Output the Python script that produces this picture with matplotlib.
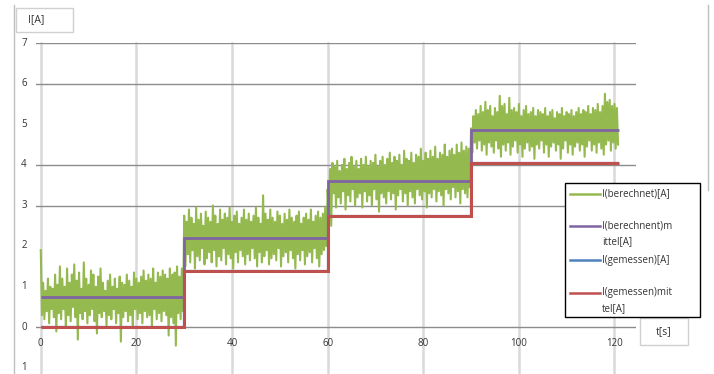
import matplotlib
matplotlib.use("Agg")
import matplotlib.pyplot as plt
from matplotlib.patches import Rectangle
from matplotlib.lines import Line2D
import numpy as np

# step edges and mean levels
step_t = [0, 30, 60, 90, 121]
mittel_berechnet = [0.75, 2.2, 3.6, 4.85]
mittel_gemessen = [0.0, 1.4, 2.75, 4.05]
gemessen = [0.0, 1.4, 2.75, 4.05]

oben1 = [1.9, 1.1, 0.9, 1.2, 1.0, 0.95, 1.3, 1.05, 1.5, 1.2, 1.0, 1.45, 1.1, 1.3, 1.55,
         1.15, 1.35, 0.95, 1.6, 1.2, 1.05, 1.4, 1.3, 1.0, 1.25, 1.45, 1.1, 0.9, 1.15, 1.3,
         1.0, 1.2, 0.95, 1.25, 1.1, 1.05, 1.3, 1.15, 1.0, 1.35, 1.2, 1.1, 1.25, 1.4, 1.15,
         1.3, 1.2, 1.45, 1.1, 1.35, 1.25, 1.4, 1.3, 1.2, 1.45, 1.3, 1.35, 1.5, 1.25, 1.45]
unten1 = [0.3, 0.2, 0.4, 0.1, 0.45, 0.25, -0.1, 0.35, 0.2, 0.45, 0.0, 0.3, 0.15, 0.5, 0.25,
          -0.3, 0.35, 0.2, 0.4, 0.1, 0.3, 0.45, 0.15, -0.15, 0.35, 0.25, 0.4, 0.05, 0.3, 0.2,
          0.45, 0.1, 0.35, -0.35, 0.25, 0.4, 0.15, 0.3, 0.05, 0.45, 0.2, 0.35, 0.1, 0.4, 0.25,
          0.3, 0.0, 0.45, 0.2, 0.35, 0.15, 0.4, 0.3, -0.2, 0.25, 0.1, -0.45, 0.35, 0.2, 0.4]
oben2 = [2.75, 2.6, 2.9, 2.7, 2.55, 2.95, 2.65, 2.8, 2.5, 2.85, 2.7, 2.6, 3.0, 2.75, 2.55,
         2.9, 2.65, 2.8, 2.7, 2.95, 2.6, 2.75, 2.85, 2.55, 2.7, 2.9, 2.65, 2.8, 2.6, 2.75,
         2.95, 2.7, 2.55, 3.25, 2.8, 2.65, 2.9, 2.7, 2.6, 2.85, 2.75, 2.55, 2.8, 2.65, 2.9,
         2.7, 2.6, 2.75, 2.85, 2.55, 2.7, 2.8, 2.65, 2.9, 2.6, 2.75, 2.85, 2.7, 2.8, 2.95]
unten2 = [1.5, 1.8, 1.6, 1.9, 1.45, 1.75, 1.65, 1.95, 1.55, 1.7, 1.85, 1.6, 1.9, 1.5, 1.75,
          1.65, 1.95, 1.55, 1.8, 1.7, 1.45, 1.85, 1.6, 1.9, 1.75, 1.55, 1.8, 1.65, 1.95, 1.7,
          1.5, 1.85, 1.6, 1.75, 1.9, 1.55, 1.7, 1.8, 1.65, 1.95, 1.5, 1.75, 1.85, 1.6, 1.9,
          1.7, 1.45, 1.8, 1.65, 1.9, 1.55, 1.75, 1.85, 1.6, 1.95, 1.7, 1.5, 1.8, 1.9, 2.0]
oben3 = [3.4, 3.9, 4.05, 3.95, 4.1, 3.85, 4.0, 4.15, 3.9, 4.05, 4.2, 3.95, 4.1, 3.9, 4.15,
         4.0, 4.2, 3.95, 4.1, 4.05, 4.25, 3.95, 4.1, 4.2, 4.0, 4.15, 4.3, 4.05, 4.2, 4.1,
         4.25, 4.0, 4.35, 4.15, 4.1, 4.3, 4.05, 4.25, 4.2, 4.4, 4.1, 4.3, 4.15, 4.35, 4.2,
         4.45, 4.15, 4.3, 4.25, 4.5, 4.2, 4.35, 4.4, 4.25, 4.5, 4.3, 4.55, 4.35, 4.45, 4.4]
unten3 = [2.8, 2.5, 3.3, 2.95, 3.2, 3.05, 3.35, 2.9, 3.25, 3.1, 3.4, 3.0, 3.2, 3.3, 2.95,
          3.35, 3.1, 3.25, 3.0, 3.4, 3.15, 2.85, 3.3, 3.2, 3.05, 3.35, 3.15, 3.3, 2.9, 3.25,
          3.4, 3.1, 3.3, 3.0, 3.35, 3.2, 3.05, 3.4, 3.25, 3.15, 3.35, 2.95, 3.3, 3.2, 3.4,
          3.1, 3.35, 3.25, 3.0, 3.4, 3.3, 3.15, 3.45, 3.2, 3.35, 3.05, 3.4, 3.3, 3.2, 3.45]
oben4 = [4.9, 5.2, 5.35, 5.25, 5.45, 5.3, 5.55, 5.35, 5.45, 5.2, 5.4, 5.3, 5.7, 5.45, 5.5,
         5.25, 5.65, 5.35, 5.4, 5.3, 5.5, 5.2, 5.35, 5.45, 5.25, 5.3, 5.4, 5.2, 5.35, 5.3,
         5.25, 5.4, 5.2, 5.3, 5.35, 5.15, 5.3, 5.25, 5.4, 5.2, 5.3, 5.25, 5.35, 5.2, 5.3,
         5.4, 5.25, 5.35, 5.3, 5.45, 5.25, 5.4, 5.35, 5.5, 5.3, 5.45, 5.75, 5.55, 5.6, 5.45,
         5.5, 5.4]
unten4 = [4.3, 4.55, 4.4, 4.6, 4.35, 4.5, 4.25, 4.55, 4.45, 4.3, 4.6, 4.4, 4.2, 4.5, 4.35,
          4.55, 4.25, 4.45, 4.6, 4.3, 4.5, 4.2, 4.4, 4.55, 4.35, 4.45, 4.15, 4.5, 4.4, 4.6,
          4.3, 4.5, 4.2, 4.45, 4.55, 4.35, 4.5, 4.15, 4.4, 4.6, 4.3, 4.5, 4.25, 4.45, 4.55,
          4.35, 4.5, 4.2, 4.45, 4.6, 4.35, 4.5, 4.3, 4.55, 4.4, 4.25, 4.5, 4.6, 4.35, 4.55,
          4.4, 4.5]
oben = oben1 + oben2 + oben3 + oben4
unten = unten1 + unten2 + unten3 + unten4
berechnet = np.column_stack([oben, unten]).ravel()
t = np.arange(len(berechnet)) * 0.25

x_ticks = [0, 20, 40, 60, 80, 100, 120]
y_ticks = [7, 6, 5, 4, 3, 2, 1, 0, -1]
y_tick_labels = ["7", "6", "5", "4", "3", "2", "1", "0", "1"]
h_grid = [0, 3, 4, 6, 7]

GREEN = "#94b94e"
PURPLE = "#8064a2"
BLUE = "#4f81bd"
RED = "#c0504d"
TXT = "#333333"

W, H = 714, 374
fig = plt.figure(figsize=(W / 100, H / 100), dpi=100)
plt.rcParams['font.family'] = ['Open Sans', 'DejaVu Sans']


def fx(px):
    return px / W


def fy(py):
    return 1 - py / H


ax = fig.add_axes([fx(36), fy(368), fx(636) - fx(36), fy(43) - fy(368)])
ax.set_xlim(-1, 124.5)
ax.set_ylim(-1, 7)
for s in ax.spines.values():
    s.set_visible(False)
ax.set_xticks([])
ax.set_yticks([])

# gridlines
for xv in x_ticks:
    ax.plot([xv, xv], [-1.2, 7], color="#d9d9d9", lw=1.8, zorder=0, clip_on=False)
for yv in h_grid:
    ax.axhline(yv, color="#8c8c8c", lw=1.0, zorder=0.5)

# series
ax.plot(t, berechnet, color=GREEN, lw=1.5, zorder=2)
ax.stairs(mittel_berechnet, step_t, baseline=None, color=PURPLE, lw=2.0, zorder=3)
ax.stairs(gemessen, step_t, baseline=None, color=BLUE, lw=1.6, zorder=3)
ax.stairs(mittel_gemessen, step_t, baseline=None, color=RED, lw=2.2, zorder=4)

# tick labels
for xv in x_ticks:
    ax.text(xv, -0.4, str(xv), ha="center", va="center", fontsize=7, color=TXT)
for yv, lab in zip(y_ticks, y_tick_labels):
    fig.text(fx(24), fy(43 + (7 - yv) * 40.6), lab, ha="center", va="center",
             fontsize=7, color=TXT)

# frame lines
fig.add_artist(Line2D([fx(14), fx(14)], [fy(5), fy(374)], color="#bfbfbf", lw=1.0))
fig.add_artist(Line2D([fx(708), fx(708)], [fy(5), fy(190)], color="#bfbfbf", lw=1.0))

# axis title boxes
fig.add_artist(Rectangle((fx(16), fy(32)), fx(73) - fx(16), fy(8) - fy(32),
                         fc="white", ec="#d0d0d0", lw=1.0))
fig.text(fx(28), fy(20), "I[A]", ha="left", va="center", fontsize=7.5, color=TXT)
fig.add_artist(Rectangle((fx(640), fy(345)), fx(688) - fx(640), fy(318) - fy(345),
                         fc="white", ec="#d0d0d0", lw=1.0))
fig.text(fx(664), fy(332), "t[s]", ha="center", va="center", fontsize=7.5, color=TXT)

# legend
fig.add_artist(Rectangle((fx(565), fy(317)), fx(700) - fx(565), fy(183) - fy(317),
                         fc="white", ec="black", lw=1.0, zorder=5))
entries = [
    (GREEN, 194, ["I(berechnet)[A]"]),
    (PURPLE, 226, ["I(berechnent)m", "ittel[A]"]),
    (BLUE, 260, ["I(gemessen)[A]"]),
    (RED, 293, ["I(gemessen)mit", "tel[A]"]),
]
for col, py, lines in entries:
    fig.add_artist(Line2D([fx(570), fx(600)], [fy(py), fy(py)], color=col, lw=1.8, zorder=6))
    for i, ln in enumerate(lines):
        fig.text(fx(602), fy(py + i * 15.5), ln, ha="left", va="center",
                 fontsize=7, color=TXT, zorder=6)

fig.savefig("out.png", dpi=100)
